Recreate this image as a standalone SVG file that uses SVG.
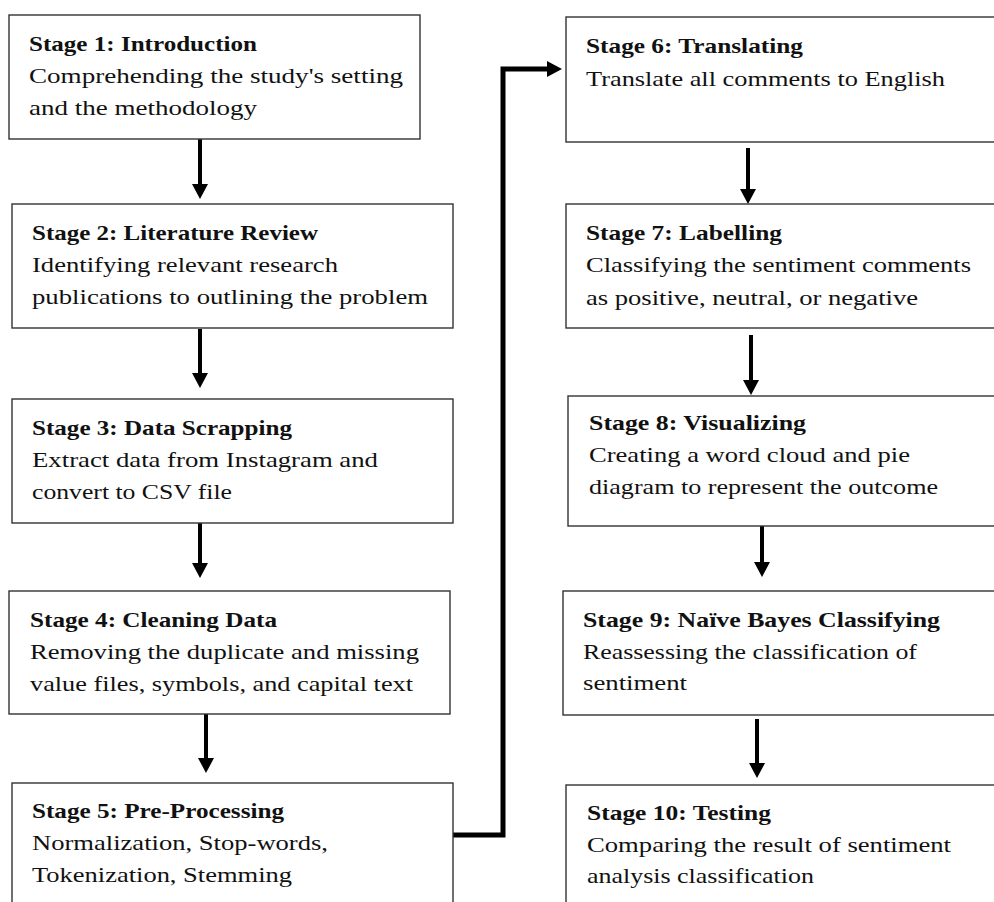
<svg xmlns="http://www.w3.org/2000/svg" width="994" height="902" viewBox="0 0 994 902">
<style>
.box{fill:#fff;stroke:#333;stroke-width:1.4}
text{font-family:"Liberation Serif","Times New Roman",serif;font-size:22px;fill:#111}
.t{font-weight:bold}
.c{fill:none;stroke:#000;stroke-width:4}
.k{fill:none;stroke:#000;stroke-width:5}
</style>
<defs>
<marker id="ah" viewBox="0 0 15 16" refX="0" refY="8" markerWidth="15" markerHeight="16" markerUnits="userSpaceOnUse" orient="auto">
<path d="M0,0 L15,8 L0,16 z" fill="#000"/>
</marker>
</defs>
<rect width="994" height="902" fill="#fff"/>
<g id="connectors">
<line class="c" x1="200" y1="139" x2="200" y2="184" marker-end="url(#ah)"/>
<line class="c" x1="200" y1="329" x2="200" y2="373" marker-end="url(#ah)"/>
<line class="c" x1="200" y1="518" x2="200" y2="563" marker-end="url(#ah)"/>
<line class="c" x1="206" y1="714" x2="206" y2="758" marker-end="url(#ah)"/>
<polyline class="k" points="453,835 503,835 503,69 547,69" marker-end="url(#ah)"/>
<line class="c" x1="748" y1="148" x2="748" y2="189" marker-end="url(#ah)"/>
<line class="c" x1="751" y1="335" x2="751" y2="380" marker-end="url(#ah)"/>
<line class="c" x1="762" y1="518" x2="762" y2="562" marker-end="url(#ah)"/>
<line class="c" x1="757" y1="719" x2="757" y2="763" marker-end="url(#ah)"/>
</g>
<g id="stage1">
<rect class="box" x="9" y="15" width="411" height="124"/>
<text class="t" x="29" y="51" textLength="228" lengthAdjust="spacingAndGlyphs">Stage 1: Introduction</text>
<text x="29" y="83" textLength="374" lengthAdjust="spacingAndGlyphs">Comprehending the study's setting</text>
<text x="29" y="115" textLength="228" lengthAdjust="spacingAndGlyphs">and the methodology</text>
</g>
<g id="stage2">
<rect class="box" x="12" y="204" width="441" height="124"/>
<text class="t" x="32" y="240" textLength="286" lengthAdjust="spacingAndGlyphs">Stage 2: Literature Review</text>
<text x="32" y="272" textLength="306" lengthAdjust="spacingAndGlyphs">Identifying relevant research</text>
<text x="32" y="304" textLength="396" lengthAdjust="spacingAndGlyphs">publications to outlining the problem</text>
</g>
<g id="stage3">
<rect class="box" x="12" y="399" width="441" height="124"/>
<text class="t" x="32" y="435" textLength="260" lengthAdjust="spacingAndGlyphs">Stage 3: Data Scrapping</text>
<text x="32" y="467" textLength="346" lengthAdjust="spacingAndGlyphs">Extract data from Instagram and</text>
<text x="32" y="499" textLength="200" lengthAdjust="spacingAndGlyphs">convert to CSV file</text>
</g>
<g id="stage4">
<rect class="box" x="9" y="591" width="441" height="123"/>
<text class="t" x="30" y="627" textLength="247" lengthAdjust="spacingAndGlyphs">Stage 4: Cleaning Data</text>
<text x="30" y="659" textLength="389" lengthAdjust="spacingAndGlyphs">Removing the duplicate and missing</text>
<text x="30" y="691" textLength="383" lengthAdjust="spacingAndGlyphs">value files, symbols, and capital text</text>
</g>
<g id="stage5">
<rect class="box" x="12" y="783" width="441" height="130"/>
<text class="t" x="32" y="818" textLength="252" lengthAdjust="spacingAndGlyphs">Stage 5: Pre-Processing</text>
<text x="32" y="850" textLength="296" lengthAdjust="spacingAndGlyphs">Normalization, Stop-words,</text>
<text x="32" y="882" textLength="260" lengthAdjust="spacingAndGlyphs">Tokenization, Stemming</text>
</g>
<g id="stage6">
<rect class="box" x="566" y="17" width="440" height="125"/>
<text class="t" x="586" y="53" textLength="217" lengthAdjust="spacingAndGlyphs">Stage 6: Translating</text>
<text x="586" y="86" textLength="359" lengthAdjust="spacingAndGlyphs">Translate all comments to English</text>
</g>
<g id="stage7">
<rect class="box" x="566" y="204" width="440" height="124"/>
<text class="t" x="586" y="240" textLength="196" lengthAdjust="spacingAndGlyphs">Stage 7: Labelling</text>
<text x="586" y="272" textLength="385" lengthAdjust="spacingAndGlyphs">Classifying the sentiment comments</text>
<text x="586" y="305" textLength="332" lengthAdjust="spacingAndGlyphs">as positive, neutral, or negative</text>
</g>
<g id="stage8">
<rect class="box" x="568" y="396" width="440" height="130"/>
<text class="t" x="589" y="430" textLength="217" lengthAdjust="spacingAndGlyphs">Stage 8: Visualizing</text>
<text x="589" y="462" textLength="321" lengthAdjust="spacingAndGlyphs">Creating a word cloud and pie</text>
<text x="589" y="494" textLength="349" lengthAdjust="spacingAndGlyphs">diagram to represent the outcome</text>
</g>
<g id="stage9">
<rect class="box" x="563" y="591" width="440" height="124"/>
<text class="t" x="583" y="627" textLength="357" lengthAdjust="spacingAndGlyphs">Stage 9: Naïve Bayes Classifying</text>
<text x="583" y="659" textLength="334" lengthAdjust="spacingAndGlyphs">Reassessing the classification of</text>
<text x="583" y="690" textLength="104" lengthAdjust="spacingAndGlyphs">sentiment</text>
</g>
<g id="stage10">
<rect class="box" x="566" y="785" width="440" height="130"/>
<text class="t" x="587" y="820" textLength="184" lengthAdjust="spacingAndGlyphs">Stage 10: Testing</text>
<text x="587" y="852" textLength="364" lengthAdjust="spacingAndGlyphs">Comparing the result of sentiment</text>
<text x="587" y="883" textLength="227" lengthAdjust="spacingAndGlyphs">analysis classification</text>
</g>
</svg>
